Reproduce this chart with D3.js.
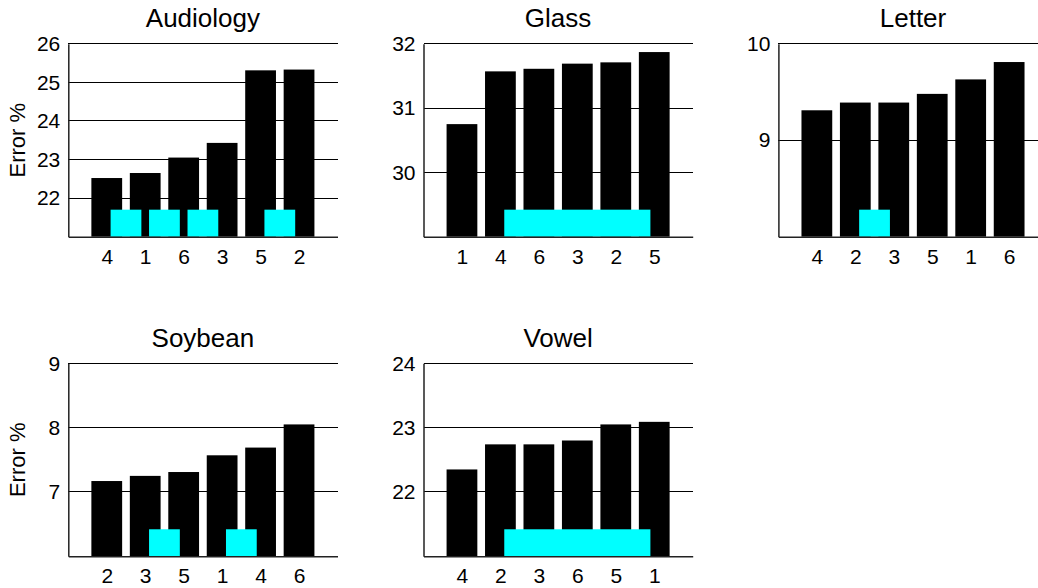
<!DOCTYPE html>
<html>
<head>
<meta charset="utf-8">
<script src="https://cdn.jsdelivr.net/npm/d3@7"></script>
<style>
  html, body { margin: 0; padding: 0; background: #fff; }
  svg { display: block; }
  text { font-family: "Liberation Sans", Arial, sans-serif; fill: #000; }
</style>
</head>
<body>
<div id="chart"></div>
<script>
// ---- data ----
const titles = ["Audiology", "Glass", "Letter", "Soybean", "Vowel"];

const audiologyLabels = ["4", "1", "6", "3", "5", "2"];
const audiologyValues = [22.52, 22.65, 23.05, 23.43, 25.31, 25.33];
const audiologyLinks = [[1, 2], [2, 3], [3, 4], [5, 6]];
const audiologyYDomain = [21, 26];
const audiologyTicks = [22, 23, 24, 25, 26];
const audiologyLinkTop = 21.7;

const glassLabels = ["1", "4", "6", "3", "2", "5"];
const glassValues = [30.75, 31.57, 31.61, 31.69, 31.71, 31.87];
const glassLinks = [[2, 6]];
const glassYDomain = [29, 32];
const glassTicks = [30, 31, 32];
const glassLinkTop = 29.42;

const letterLabels = ["4", "2", "3", "5", "1", "6"];
const letterValues = [9.31, 9.39, 9.39, 9.48, 9.63, 9.81];
const letterLinks = [[2, 3]];
const letterYDomain = [8, 10];
const letterTicks = [9, 10];
const letterLinkTop = 8.28;

const soybeanLabels = ["2", "3", "5", "1", "4", "6"];
const soybeanValues = [7.17, 7.25, 7.31, 7.57, 7.69, 8.05];
const soybeanLinks = [[2, 3], [4, 5]];
const soybeanYDomain = [6, 9];
const soybeanTicks = [7, 8, 9];
const soybeanLinkTop = 6.42;

const vowelLabels = ["4", "2", "3", "6", "5", "1"];
const vowelValues = [22.35, 22.74, 22.74, 22.80, 23.05, 23.09];
const vowelLinks = [[2, 6]];
const vowelYDomain = [21, 24];
const vowelTicks = [22, 23, 24];
const vowelLinkTop = 21.42;

const yLabel = "Error %";

// ---- layout ----
const W = 1038, H = 588;
const colX = [68.3, 423.5, 778.4];
const axW = 269.2;
const rowY = [43.7, 363.3];
const axH = 193;

const panels = [
  {title: titles[0], labels: audiologyLabels, values: audiologyValues, links: audiologyLinks, yDomain: audiologyYDomain, ticks: audiologyTicks, linkTop: audiologyLinkTop, col: 0, row: 0, ylab: true},
  {title: titles[1], labels: glassLabels, values: glassValues, links: glassLinks, yDomain: glassYDomain, ticks: glassTicks, linkTop: glassLinkTop, col: 1, row: 0},
  {title: titles[2], labels: letterLabels, values: letterValues, links: letterLinks, yDomain: letterYDomain, ticks: letterTicks, linkTop: letterLinkTop, col: 2, row: 0},
  {title: titles[3], labels: soybeanLabels, values: soybeanValues, links: soybeanLinks, yDomain: soybeanYDomain, ticks: soybeanTicks, linkTop: soybeanLinkTop, col: 0, row: 1, ylab: true},
  {title: titles[4], labels: vowelLabels, values: vowelValues, links: vowelLinks, yDomain: vowelYDomain, ticks: vowelTicks, linkTop: vowelLinkTop, col: 1, row: 1}
];

const svg = d3.select("#chart").append("svg")
  .attr("width", W).attr("height", H);

panels.forEach(p => {
  const g = svg.append("g")
    .attr("transform", `translate(${colX[p.col]},${rowY[p.row]})`);

  const x = d3.scaleLinear().domain([0, 7]).range([0, axW]);
  const y = d3.scaleLinear().domain(p.yDomain).range([axH, 0]);
  const bw = 0.8;

  // gridlines
  g.selectAll("line.grid").data(p.ticks).enter().append("line")
    .attr("class", "grid")
    .attr("x1", 0).attr("x2", axW)
    .attr("y1", d => y(d)).attr("y2", d => y(d))
    .attr("stroke", "#000").attr("stroke-width", 1)
    .attr("shape-rendering", "crispEdges");

  // bars
  g.selectAll("rect.bar").data(p.values).enter().append("rect")
    .attr("class", "bar")
    .attr("x", (d, i) => x(i + 1 - bw / 2))
    .attr("width", x(bw) - x(0))
    .attr("y", d => y(d))
    .attr("height", d => axH - y(d))
    .attr("fill", "#000");

  // cyan links
  g.selectAll("rect.link").data(p.links).enter().append("rect")
    .attr("class", "link")
    .attr("x", d => x(d[0] + 0.1))
    .attr("width", d => x(d[1] - 0.1) - x(d[0] + 0.1))
    .attr("y", y(p.linkTop))
    .attr("height", axH - y(p.linkTop))
    .attr("fill", "#00ffff");

  // y axis
  const yAxis = d3.axisLeft(y).tickValues(p.ticks).tickSize(0).tickPadding(8)
    .tickFormat(d3.format("d"));
  const ya = g.append("g").call(yAxis);
  ya.select(".domain").attr("stroke", "#222").attr("stroke-width", 1.5);
  ya.selectAll("text").style("font-size", "21px").attr("fill", "#000");

  // x axis
  const xAxis = d3.axisBottom(x).tickValues([1, 2, 3, 4, 5, 6]).tickSize(0).tickPadding(12)
    .tickFormat(d => p.labels[d - 1]);
  const xa = g.append("g").attr("transform", `translate(0,${axH})`).call(xAxis);
  xa.select(".domain").attr("stroke", "#222").attr("stroke-width", 1.5);
  xa.selectAll("text").style("font-size", "21px").attr("fill", "#000");

  // title
  g.append("text")
    .attr("x", axW / 2).attr("y", -16.5)
    .attr("text-anchor", "middle")
    .style("font-size", "26px")
    .text(p.title);

  if (p.ylab) {
    g.append("text")
      .attr("transform", `translate(${-43.5},${axH / 2}) rotate(-90)`)
      .attr("text-anchor", "middle")
      .style("font-size", "22px")
      .text(yLabel);
  }
});
</script>
</body>
</html>
